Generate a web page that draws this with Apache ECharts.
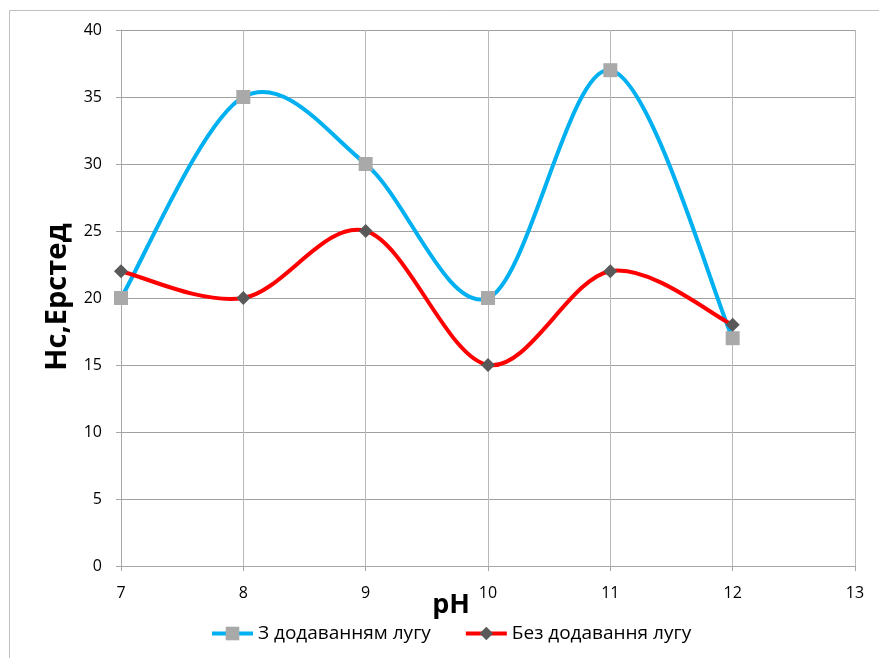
<!DOCTYPE html>
<html>
<head>
<meta charset="utf-8">
<script src="https://cdn.jsdelivr.net/npm/echarts@6/dist/echarts.min.js"></script>
<style>
  html, body { margin: 0; padding: 0; background: #fff; }
  #main { width: 879px; height: 658px; }
</style>
</head>
<body>
<div id="main"></div>
<script>
// дані з графіка
var phValues = [7, 8, 9, 10, 11, 12];
var withAlkali = [20, 35, 30, 20, 37, 17];
var noAlkali = [22, 20, 25, 15, 22, 18];
var seriesNames = ['З додаванням лугу', 'Без додавання лугу'];
var lineColors = ['#00b0f0', '#ff0000'];
var markerColors = ['#a9a9a9', '#595959'];

function pairs(xs, ys) {
    return xs.map(function (x, i) { return [x, ys[i]]; });
}

// згладжування як в Excel (Catmull-Rom -> Безьє)
function smoothPath(ys, color) {
    return function (params, api) {
        if (params.dataIndex !== 0) return null;
        var pts = phValues.map(function (x, i) { return api.coord([x, ys[i]]); });
        var n = pts.length;
        var d = 'M' + pts[0][0] + ' ' + pts[0][1];
        for (var i = 0; i < n - 1; i++) {
            var p0 = pts[Math.max(i - 1, 0)], p1 = pts[i], p2 = pts[i + 1], p3 = pts[Math.min(i + 2, n - 1)];
            var c1x = p1[0] + (p2[0] - p0[0]) / 6, c1y = p1[1] + (p2[1] - p0[1]) / 6;
            var c2x = p2[0] - (p3[0] - p1[0]) / 6, c2y = p2[1] - (p3[1] - p1[1]) / 6;
            d += ' C' + c1x + ' ' + c1y + ' ' + c2x + ' ' + c2y + ' ' + p2[0] + ' ' + p2[1];
        }
        return {
            type: 'path',
            shape: { pathData: d },
            style: { fill: 'none', stroke: color, lineWidth: 4, lineJoin: 'round', lineCap: 'round' }
        };
    };
}

var font = '"Open Sans", "Noto Sans", sans-serif';
var chart = echarts.init(document.getElementById('main'));
var option = {
    animation: false,
    backgroundColor: '#fff',
    textStyle: { fontFamily: font },
    grid: { left: 121, right: 24, top: 30, bottom: 92 },
    legend: {
        top: 619,
        left: 205,
        itemWidth: 41,
        itemHeight: 17,
        itemGap: 33,
        textStyle: { fontSize: 19, color: '#000', fontFamily: font },
        data: seriesNames.map(function (name, i) {
            return { name: name, lineStyle: { color: lineColors[i], width: 4, opacity: 1 } };
        })
    },
    xAxis: {
        type: 'value',
        min: 7, max: 13, interval: 1,
        axisLine: { show: true, lineStyle: { color: '#a6a6a6' } },
        axisTick: { show: true, length: 5, lineStyle: { color: '#a6a6a6' } },
        axisLabel: { color: '#000', fontSize: 16, margin: 19 },
        splitLine: { show: true, lineStyle: { color: '#b8b8b8' } }
    },
    yAxis: {
        type: 'value',
        min: 0, max: 40, interval: 5,
        axisLine: { show: true, lineStyle: { color: '#a6a6a6' } },
        axisTick: { show: true, length: 5, lineStyle: { color: '#a6a6a6' } },
        axisLabel: { color: '#000', fontSize: 16, margin: 19 },
        splitLine: { show: true, lineStyle: { color: '#a0a0a0' } }
    },
    graphic: [
        {
            type: 'rect', silent: true,
            shape: { x: 9.5, y: 10.5, width: 1000, height: 1000 },
            style: { fill: 'none', stroke: '#bfbfbf', lineWidth: 1 }
        },
        {
            type: 'text', x: 451, y: 605, silent: true,
            style: {
                text: 'pH', font: 'bold 27px ' + font, fill: '#000',
                align: 'center', verticalAlign: 'middle'
            }
        },
        {
            type: 'text', x: 58, y: 297, rotation: Math.PI / 2, silent: true,
            style: {
                text: 'Нс,Ерстед', font: 'bold 29px ' + font, fill: '#000',
                align: 'center', verticalAlign: 'middle'
            }
        }
    ],
    series: [
        {
            name: 'line0',
            type: 'custom',
            renderItem: smoothPath(withAlkali, lineColors[0]),
            data: pairs(phValues, withAlkali),
            encode: { x: 0, y: 1 },
            z: 1
        },
        {
            name: 'line1',
            type: 'custom',
            renderItem: smoothPath(noAlkali, lineColors[1]),
            data: pairs(phValues, noAlkali),
            encode: { x: 0, y: 1 },
            z: 2
        },
        {
            name: seriesNames[0],
            type: 'line',
            data: pairs(phValues, withAlkali),
            symbol: 'rect',
            symbolSize: 14,
            itemStyle: { color: markerColors[0] },
            lineStyle: { color: lineColors[0], width: 4, opacity: 0 },
            z: 3
        },
        {
            name: seriesNames[1],
            type: 'line',
            data: pairs(phValues, noAlkali),
            symbol: 'diamond',
            symbolSize: 14,
            itemStyle: { color: markerColors[1] },
            lineStyle: { color: lineColors[1], width: 4, opacity: 0 },
            z: 4
        }
    ]
};
chart.setOption(option);
</script>
</body>
</html>
